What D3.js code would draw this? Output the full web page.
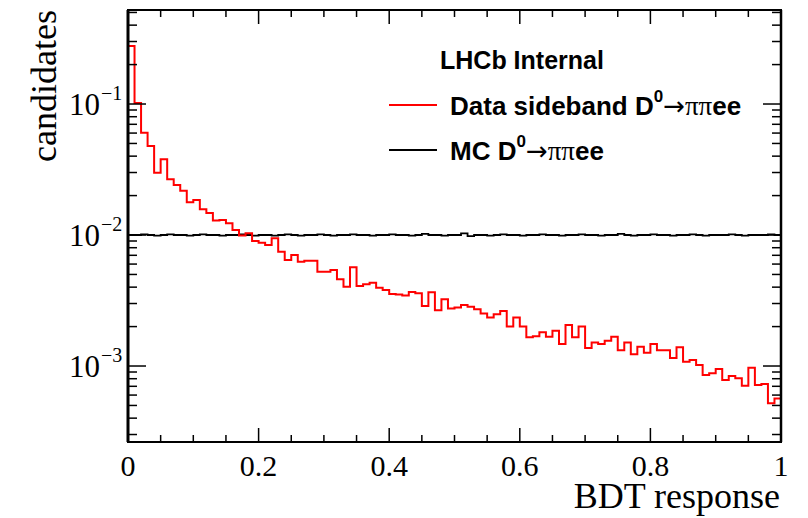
<!DOCTYPE html>
<html><head><meta charset="utf-8">
<script src="https://cdn.jsdelivr.net/npm/d3@7"></script>
<style>body{margin:0;background:#fff}svg{display:block}</style>
</head><body>
<script>
// ---- data ----
const binEdges = [0, 1];          // x range of histogram
const nBins = 100;
const dataSideband = [0.277,0.102,0.0604,0.0478,0.0299,0.0379,0.0266,0.0241,0.0218,0.0178,
 0.0185,0.0157,0.0147,0.0129,0.0130,0.0123,0.0109,0.0099,0.0103,0.0090,
 0.00873,0.00839,0.00944,0.00746,0.00645,0.00704,0.00626,0.00637,0.00637,0.00525,
 0.00525,0.00541,0.00459,0.00403,0.00567,0.00408,0.00420,0.00432,0.00396,0.00380,
 0.00355,0.00352,0.00345,0.00367,0.00359,0.00287,0.00365,0.00267,0.00324,0.00275,
 0.00280,0.00292,0.00284,0.00271,0.00252,0.00235,0.00248,0.00263,0.00200,0.00235,
 0.00200,0.00166,0.00169,0.00181,0.00167,0.00186,0.00147,0.00206,0.00166,0.00200,
 0.00137,0.00151,0.00147,0.00156,0.00167,0.00132,0.00151,0.00123,0.00140,0.00126,
 0.00147,0.00132,0.00132,0.00115,0.00139,0.00108,0.00111,0.00102,0.000854,0.000880,
 0.000949,0.000782,0.000839,0.000806,0.000708,0.000970,0.000716,0.000729,0.000519,0.000566];
const mcSignal = [0.0100,0.0100,0.0101,0.0100,0.0099,0.0100,0.0101,0.0100,0.0100,0.0099,
 0.0100,0.0101,0.0100,0.0100,0.0099,0.0100,0.0100,0.0101,0.0100,0.0099,
 0.0100,0.0100,0.0099,0.0100,0.0101,0.0100,0.0099,0.0100,0.0100,0.0101,
 0.0100,0.0099,0.0100,0.0100,0.0101,0.0100,0.0100,0.0099,0.0100,0.0100,
 0.0101,0.0100,0.0100,0.0099,0.0100,0.0102,0.0100,0.0100,0.0099,0.0100,
 0.0100,0.0103,0.0098,0.0100,0.0100,0.0099,0.0100,0.0101,0.0100,0.0100,
 0.0099,0.0100,0.0100,0.0101,0.0100,0.0100,0.0099,0.0100,0.0100,0.0101,
 0.0100,0.0100,0.0099,0.0100,0.0100,0.0102,0.0100,0.0099,0.0100,0.0100,
 0.0101,0.0100,0.0100,0.0099,0.0100,0.0100,0.0101,0.0100,0.0099,0.0100,
 0.0100,0.0100,0.0101,0.0100,0.0099,0.0100,0.0100,0.0100,0.0101,0.0100];
const xTickLabels = ["0","0.2","0.4","0.6","0.8","1"];
const yTickExponents = [-1,-2,-3];
const legendEntries = [
  {label:"Data sideband D", sup:"0", tail:"ee", color:"#ff0000"},
  {label:"MC D", sup:"0", tail:"ee", color:"#000000"}
];

// ---- layout ----
const W=808,H=518, L=128, R=781, T=10, B=442;
const svg=d3.select("body").append("svg").attr("width",W).attr("height",H);
const x=d3.scaleLinear().domain(binEdges).range([L,R]);
const y=d3.scaleLog().domain([2.63e-4,0.522]).range([B,T]);

svg.append("defs").append("clipPath").attr("id","clip")
  .append("rect").attr("x",L).attr("y",T).attr("width",R-L).attr("height",B-T);

function histPath(vals){
  const w=(binEdges[1]-binEdges[0])/nBins;
  const p=d3.path();
  p.moveTo(x(0),B+5);
  vals.forEach((v,i)=>{p.lineTo(x(i*w),y(v));p.lineTo(x((i+1)*w),y(v));});
  p.lineTo(x(1),B+5);
  return p.toString();
}
const g=svg.append("g").attr("clip-path","url(#clip)");
g.append("path").attr("d",histPath(mcSignal)).attr("fill","none").attr("stroke","#000").attr("stroke-width",1.8);
g.append("path").attr("d",histPath(dataSideband)).attr("fill","none").attr("stroke","#ff0000").attr("stroke-width",2);

// ---- axes ----
const serif="'Liberation Serif','Times New Roman',serif";
const ax=svg.append("g").attr("stroke","#000");
ax.append("rect").attr("x",L).attr("y",T).attr("width",R-L).attr("height",B-T)
  .attr("fill","none").attr("stroke-width",2);
ax.append("line").attr("x1",L).attr("x2",L).attr("y1",T).attr("y2",B).attr("stroke-width",3);
ax.append("line").attr("x1",R).attr("x2",R).attr("y1",T).attr("y2",B).attr("stroke-width",2.5);
// x ticks
const xMinor=d3.range(0,1.0001,0.05), xMajor=d3.range(0,1.0001,0.2);
xMinor.forEach(t=>{
  const major=xMajor.some(m=>Math.abs(m-t)<1e-9); const len=major?14:7;
  ax.append("line").attr("x1",x(t)).attr("x2",x(t)).attr("y1",B).attr("y2",B-len).attr("stroke-width",1.5);
  ax.append("line").attr("x1",x(t)).attr("x2",x(t)).attr("y1",T).attr("y2",T+len).attr("stroke-width",1.5);
});
svg.selectAll(".xl").data(xTickLabels).enter().append("text")
  .attr("x",(d,i)=>x(xMajor[i])).attr("y",476).attr("text-anchor","middle")
  .attr("font-family",serif).attr("font-size",30).text(d=>d);
// y ticks
const yTicks=[];
for(let e=-4;e<=0;e++) for(let m=1;m<=9;m++){const v=m*Math.pow(10,e); if(v>=2.63e-4&&v<=0.522) yTicks.push({v,major:m===1});}
yTicks.forEach(t=>{
  const len=t.major?18:9;
  ax.append("line").attr("x1",L).attr("x2",L+len).attr("y1",y(t.v)).attr("y2",y(t.v)).attr("stroke-width",1.5);
  ax.append("line").attr("x1",R).attr("x2",R-len).attr("y1",y(t.v)).attr("y2",y(t.v)).attr("stroke-width",1.5);
});
yTickExponents.forEach(e=>{
  svg.append("text").attr("x",100).attr("y",y(Math.pow(10,e))+11).attr("text-anchor","end")
    .attr("font-family",serif).attr("font-size",31).text("10");
  svg.append("text").attr("x",101).attr("y",y(Math.pow(10,e))-4).attr("font-family",serif).attr("font-size",20)
    .text("\u2212"+Math.abs(e));
});
// titles
svg.append("text").attr("x",780).attr("y",508).attr("text-anchor","end")
  .attr("font-family",serif).attr("font-size",36).text("BDT response");
svg.append("text").attr("transform","translate(56,10) rotate(-90)").attr("text-anchor","end")
  .attr("font-family",serif).attr("font-size",36).text("candidates");

// ---- legend ----
const sans="'Liberation Sans',Arial,sans-serif";
svg.append("text").attr("x",440).attr("y",69).attr("font-family",sans).attr("font-weight","bold")
  .attr("font-size",25).text("LHCb Internal");
legendEntries.forEach((d,i)=>{
  const yy=[115,160][i];
  svg.append("line").attr("x1",389).attr("x2",437).attr("y1",yy-10).attr("y2",yy-10)
    .attr("stroke",d.color).attr("stroke-width",2);
  const t=svg.append("text").attr("x",450).attr("y",yy).attr("font-family",sans).attr("font-weight","bold").attr("font-size",26);
  t.append("tspan").text(d.label);
  t.append("tspan").attr("font-size",17).attr("dy",-13).text(d.sup);
  t.append("tspan").attr("dy",13).attr("font-family","'DejaVu Sans',sans-serif").attr("font-size",26).attr("font-weight","normal").text("\u2192");
  t.append("tspan").attr("font-family",serif).attr("font-weight","normal").attr("font-size",27).text("\u03c0\u03c0");
  t.append("tspan").text(d.tail);
});
</script>
</body></html>
